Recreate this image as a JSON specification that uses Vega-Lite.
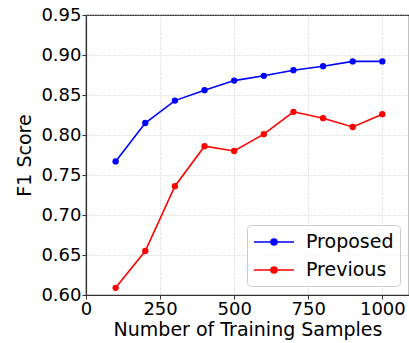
{
  "$schema": "https://vega.github.io/schema/vega-lite/v6.json",
  "autosize": "none",
  "width": 323,
  "height": 280,
  "padding": {"left": 86, "top": 15, "right": 0, "bottom": 48},
  "background": "white",
  "config": {
    "font": "DejaVu Sans",
    "view": {"stroke": "#333333", "strokeWidth": 1.2}
  },
  "data": {
    "values": [
      {"n": 100, "f1": 0.767, "method": "Proposed"},
      {"n": 200, "f1": 0.815, "method": "Proposed"},
      {"n": 300, "f1": 0.843, "method": "Proposed"},
      {"n": 400, "f1": 0.856, "method": "Proposed"},
      {"n": 500, "f1": 0.868, "method": "Proposed"},
      {"n": 600, "f1": 0.874, "method": "Proposed"},
      {"n": 700, "f1": 0.881, "method": "Proposed"},
      {"n": 800, "f1": 0.886, "method": "Proposed"},
      {"n": 900, "f1": 0.892, "method": "Proposed"},
      {"n": 1000, "f1": 0.892, "method": "Proposed"},
      {"n": 100, "f1": 0.609, "method": "Previous"},
      {"n": 200, "f1": 0.655, "method": "Previous"},
      {"n": 300, "f1": 0.736, "method": "Previous"},
      {"n": 400, "f1": 0.786, "method": "Previous"},
      {"n": 500, "f1": 0.780, "method": "Previous"},
      {"n": 600, "f1": 0.801, "method": "Previous"},
      {"n": 700, "f1": 0.829, "method": "Previous"},
      {"n": 800, "f1": 0.821, "method": "Previous"},
      {"n": 900, "f1": 0.810, "method": "Previous"},
      {"n": 1000, "f1": 0.826, "method": "Previous"}
    ]
  },
  "mark": {"type": "line", "strokeWidth": 1.6, "point": {"filled": true, "size": 40}},
  "encoding": {
    "x": {
      "field": "n", "type": "quantitative",
      "scale": {"domain": [0, 1090], "nice": false, "zero": false},
      "axis": {
        "values": [0, 250, 500, 750, 1000],
        "format": "d",
        "title": "Number of Training Samples",
        "titleFontSize": 19, "titleFontWeight": "normal", "titleColor": "#000000", "titlePadding": 2,
        "labelFontSize": 18, "labelColor": "#000000", "labelPadding": 1, "labelFlush": false,
        "tickSize": 4, "tickColor": "#333333", "domainColor": "#333333", "domainWidth": 1.2,
        "gridColor": "#b0b0b0", "gridDash": [1, 1.5], "gridWidth": 0.8, "gridOpacity": 0.7
      }
    },
    "y": {
      "field": "f1", "type": "quantitative",
      "scale": {"domain": [0.6, 0.95], "nice": false, "zero": false},
      "axis": {
        "values": [0.6, 0.65, 0.7, 0.75, 0.8, 0.85, 0.9, 0.95],
        "format": ".2f",
        "title": "F1 Score",
        "titleFontSize": 19, "titleFontWeight": "normal", "titleColor": "#000000", "titlePadding": 6,
        "labelFontSize": 18, "labelColor": "#000000", "labelPadding": 1, "labelFlush": false,
        "tickSize": 4, "tickColor": "#333333", "domainColor": "#333333", "domainWidth": 1.2,
        "gridColor": "#b0b0b0", "gridDash": [1, 1.5], "gridWidth": 0.8, "gridOpacity": 0.7
      }
    },
    "color": {
      "field": "method", "type": "nominal",
      "scale": {"domain": ["Proposed", "Previous"], "range": ["#0000ff", "#ff0000"]},
      "legend": {
        "title": null,
        "orient": "none",
        "legendX": 161,
        "legendY": 210,
        "labelFontSize": 19,
        "labelColor": "#000000",
        "symbolType": "M-2,0L2,0M-0.3,0A0.3,0.3 0 1,0 0.3,0A0.3,0.3 0 1,0 -0.3,0Z",
        "symbolSize": 400,
        "symbolStrokeWidth": 1.5,
        "symbolOffset": 10,
        "rowPadding": 7,
        "labelOffset": 21,
        "padding": 6,
        "strokeColor": "#cccccc",
        "fillColor": "rgba(255,255,255,0.8)",
        "cornerRadius": 4,
        "encode": {
          "symbols": {
            "update": {
              "fill": {"scale": "color", "field": "value"},
              "stroke": {"scale": "color", "field": "value"}
            }
          }
        }
      }
    }
  }
}
